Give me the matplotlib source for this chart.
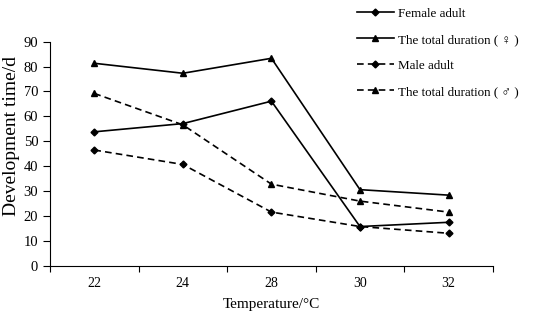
import numpy as np
import matplotlib.pyplot as plt

plt.rcParams['font.family'] = ['Liberation Serif', 'DejaVu Sans']

temps = ['22', '24', '28', '30', '32']
female_adult = [53.8, 57.1, 66.1, 15.8, 17.5]
total_female = [81.3, 77.3, 83.3, 30.6, 28.4]
male_adult = [46.5, 40.7, 21.6, 15.8, 13.1]
total_male = [69.2, 56.6, 32.8, 26.0, 21.6]

fig = plt.figure(figsize=(5.5, 3.2), dpi=100)
ax = fig.add_axes([0.091, 0.169, 0.805, 0.701])
x = np.arange(len(temps))

dash = (0, (4, 2.5))
ax.plot(x, female_adult, color='black', lw=1.2, marker='D', ms=3.5, label='Female adult')
ax.plot(x, total_female, color='black', lw=1.2, marker='^', ms=5, label='The total duration ( ♀ )')
ax.plot(x, male_adult, color='black', lw=1.2, ls=dash, marker='D', ms=3.5, label='Male adult')
ax.plot(x, total_male, color='black', lw=1.2, ls=dash, marker='^', ms=5, label='The total duration ( ♂ )')

ax.set_xlim(-0.5, len(temps) - 0.5)
ax.set_ylim(0, 90)
ax.set_yticks(range(0, 91, 10))
ax.set_xticks(np.arange(-0.5, len(temps), 1.0))
ax.set_xticklabels([])
ax.set_xticks(x, minor=True)
ax.set_xticklabels(temps, minor=True)
ax.tick_params(axis='x', which='minor', length=0, pad=8)
ax.tick_params(axis='x', which='major', length=4, direction='out')
ax.tick_params(axis='y', length=5, direction='out')
ax.tick_params(labelsize=10.5)
for s in ['top', 'right']:
    ax.spines[s].set_visible(False)

ax.set_xlabel('Temperature/°C', fontsize=11, labelpad=6)
ax.set_ylabel('Development time/d', fontsize=14)
ax.yaxis.set_label_coords(-0.068, 0.58)

fig.legend(loc='upper left', bbox_to_anchor=(0.628, 1.012), frameon=False,
           fontsize=9.4, handlelength=2.8, labelspacing=1.06, handletextpad=0.35)

fig.savefig('out.png', dpi=100)
